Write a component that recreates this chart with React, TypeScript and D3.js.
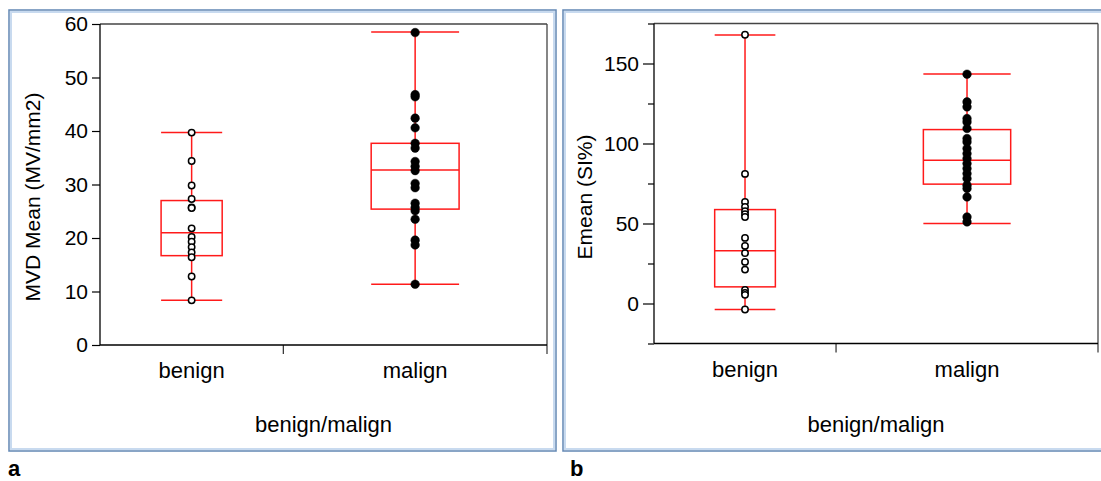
import React, { useEffect, useRef } from "react";
import * as d3 from "d3";

const categories = ["benign", "malign"];

// panel a: MVD Mean (MV/mm2)
const mvdBenign = [39.7, 34.4, 29.8, 27.3, 25.7, 25.6, 21.8, 20.2, 19.3, 18.3, 17.3, 16.4, 12.8, 8.35];
const mvdMalign = [58.4, 46.8, 46.4, 42.4, 40.6, 37.7, 36.8, 34.3, 33.4, 32.6, 30.2, 29.4, 26.5, 25.7, 25.1, 23.5, 19.6, 18.7, 11.35];
// [min, q1, median, q3, max]
const mvdBoxBenign = [8.35, 16.7, 21.0, 27.0, 39.7];
const mvdBoxMalign = [11.35, 25.4, 32.7, 37.7, 58.5];
const mvdTicks = [0, 10, 20, 30, 40, 50, 60];

// panel b: Emean (SI%)
const emeanBenign = [168, 81, 63.5, 60.4, 57.7, 55.8, 54.1, 41, 36, 31.5, 26, 21.2, 8.5, 6.6, 5.4, -3.75];
const emeanMalign = [143.3, 126, 122.9, 115.6, 113.5, 109.4, 103.1, 101, 96.9, 93.7, 90.6, 87.5, 84.4, 81.2, 78.1, 73.9, 71.9, 66.6, 54.1, 51];
const emeanBoxBenign = [-3.75, 10.4, 32.9, 58.7, 167.8];
const emeanBoxMalign = [50.0, 74.6, 89.6, 108.7, 143.5];
const emeanTicks = [0, 50, 100, 150];
const emeanMinorTicks = [-25, 25, 75, 125, 175];

const font = "'Liberation Sans', Arial, sans-serif";

const drawPanel = (svg, opts) => {
  const { frame, plot, domain, ticks, minorTicks, tickLen, yTitle, yTitleX, letter, points, boxes } = opts;

  // window frame
  svg
    .append("rect")
    .attr("x", frame.x)
    .attr("y", frame.y)
    .attr("width", frame.w)
    .attr("height", frame.h)
    .attr("fill", "none")
    .attr("stroke", "#c8daef")
    .attr("stroke-width", 4);
  svg
    .append("rect")
    .attr("x", frame.x - 1)
    .attr("y", frame.y - 1)
    .attr("width", frame.w + 2)
    .attr("height", frame.h + 2)
    .attr("fill", "none")
    .attr("stroke", "#5f82ab")
    .attr("stroke-width", 1.2);

  const y = d3.scaleLinear().domain(domain).range([plot.bottom, plot.top]);
  const pos = d3.scaleLinear().domain([0, 1]).range([plot.left, plot.right]);
  const split = 0.41;
  const bands = [
    [pos(0), pos(split)],
    [pos(split), pos(1)],
  ];

  const g = svg.append("g");

  // frame of plot area
  g.append("line")
    .attr("x1", plot.left).attr("x2", plot.right)
    .attr("y1", plot.top).attr("y2", plot.top)
    .attr("stroke", "#444").attr("stroke-width", 1.3);
  g.append("line")
    .attr("x1", plot.right).attr("x2", plot.right)
    .attr("y1", plot.top).attr("y2", plot.bottom + 9)
    .attr("stroke", "#444").attr("stroke-width", 1.3);
  g.append("line")
    .attr("x1", plot.left).attr("x2", plot.left)
    .attr("y1", plot.top).attr("y2", plot.bottom)
    .attr("stroke", "#000").attr("stroke-width", 1.3);
  g.append("line")
    .attr("x1", plot.left).attr("x2", plot.right)
    .attr("y1", plot.bottom).attr("y2", plot.bottom)
    .attr("stroke", "#000").attr("stroke-width", 1.3);
  g.append("line")
    .attr("x1", bands[0][1]).attr("x2", bands[0][1])
    .attr("y1", plot.bottom).attr("y2", plot.bottom + 9)
    .attr("stroke", "#000").attr("stroke-width", 1);

  // y axis
  const axis = g
    .append("g")
    .attr("transform", `translate(${plot.left},0)`)
    .call(d3.axisLeft(y).tickValues(ticks).tickSize(tickLen).tickPadding(4).tickFormat(d3.format("d")));
  axis.select(".domain").remove();
  axis.selectAll("text").style("font-family", font).style("font-size", "21px").attr("fill", "#000");
  axis.selectAll("line").attr("stroke-width", 1.2);

  if (minorTicks.length) {
    const minor = g
      .append("g")
      .attr("transform", `translate(${plot.left},0)`)
      .call(d3.axisLeft(y).tickValues(minorTicks).tickSize(6).tickFormat(() => ""));
    minor.select(".domain").remove();
    minor.selectAll("line").attr("stroke-width", 1.2);
  }

  // category labels
  categories.forEach((c, i) => {
    const cx = (bands[i][0] + bands[i][1]) / 2;
    g.append("text")
      .attr("x", cx)
      .attr("y", plot.bottom + 33)
      .attr("text-anchor", "middle")
      .style("font-family", font)
      .style("font-size", "22px")
      .text(c);
  });

  // boxes
  const red = "#ff1a1a";
  boxes.forEach((b, i) => {
    const cx = (bands[i][0] + bands[i][1]) / 2;
    const w = (bands[i][1] - bands[i][0]) / 3;
    const [mn, q1, md, q3, mx] = b;
    const box = g.append("g").attr("stroke", red).attr("stroke-width", 1.5).attr("fill", "none");
    box.append("line").attr("x1", cx).attr("x2", cx).attr("y1", y(q3)).attr("y2", y(mx));
    box.append("line").attr("x1", cx).attr("x2", cx).attr("y1", y(q1)).attr("y2", y(mn));
    [mn, mx, md].forEach((v) => {
      box.append("line")
        .attr("x1", cx - w / 2).attr("x2", cx + w / 2)
        .attr("y1", y(v)).attr("y2", y(v));
    });
    box.append("rect")
      .attr("x", cx - w / 2)
      .attr("y", y(q3))
      .attr("width", w)
      .attr("height", y(q1) - y(q3));
  });

  // points
  points.forEach((vals, i) => {
    const cx = (bands[i][0] + bands[i][1]) / 2;
    g.selectAll(null)
      .data(vals)
      .enter()
      .append("circle")
      .attr("cx", cx)
      .attr("cy", (d) => y(d))
      .attr("r", i === 0 ? 3.2 : 4.3)
      .attr("fill", i === 0 ? "#fff" : "#000")
      .attr("stroke", "#000")
      .attr("stroke-width", i === 0 ? 1.5 : 0.5);
  });

  // x title
  g.append("text")
    .attr("x", (plot.left + plot.right) / 2)
    .attr("y", 432)
    .attr("text-anchor", "middle")
    .style("font-family", font)
    .style("font-size", "22px")
    .text("benign/malign");

  // y title
  g.append("text")
    .attr("transform", `translate(${yTitleX},197) rotate(-90)`)
    .attr("text-anchor", "middle")
    .attr("dy", "0.35em")
    .style("font-family", font)
    .style("font-size", "21px")
    .text(yTitle);

  // panel letter
  svg
    .append("text")
    .attr("x", letter.x)
    .attr("y", 476)
    .style("font-family", font)
    .style("font-size", "22px")
    .style("font-weight", "bold")
    .text(letter.t);
};

const App = () => {
  const svgRef = useRef(null);

  useEffect(() => {
    const svg = d3.select(svgRef.current);
    svg.selectAll("*").remove();

    drawPanel(svg, {
      frame: { x: 10, y: 11, w: 545, h: 439 },
      plot: { left: 100, right: 547, top: 24, bottom: 345 },
      domain: [0, 60],
      ticks: mvdTicks,
      minorTicks: [],
      tickLen: 8,
      yTitle: "MVD Mean (MV/mm2)",
      yTitleX: 33,
      letter: { x: 8, t: "a" },
      points: [mvdBenign, mvdMalign],
      boxes: [mvdBoxBenign, mvdBoxMalign],
    });

    drawPanel(svg, {
      frame: { x: 564, y: 11, w: 545, h: 439 },
      plot: { left: 654, right: 1098, top: 23.5, bottom: 343.5 },
      domain: [-25, 175],
      ticks: emeanTicks,
      minorTicks: emeanMinorTicks,
      tickLen: 11,
      yTitle: "Emean (SI%)",
      yTitleX: 585,
      letter: { x: 570, t: "b" },
      points: [emeanBenign, emeanMalign],
      boxes: [emeanBoxBenign, emeanBoxMalign],
    });
  }, []);

  return (
    <svg
      ref={svgRef}
      width={1101}
      height={481}
      style={{ position: "absolute", left: 0, top: 0, background: "#fff" }}
    ></svg>
  );
};

export default App;
